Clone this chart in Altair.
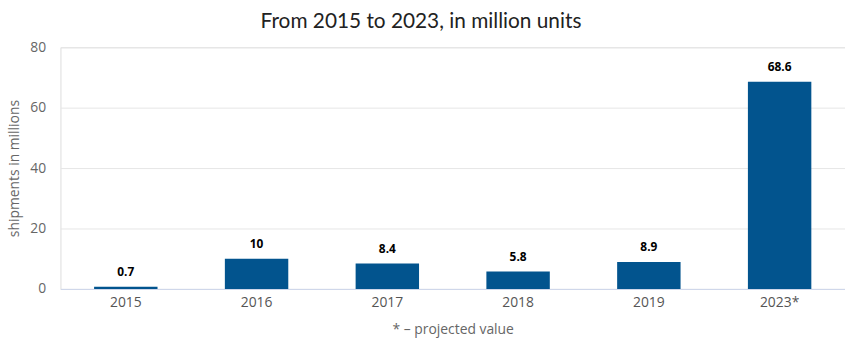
import altair as alt
import pandas as pd

years = ["2015", "2016", "2017", "2018", "2019", "2023*"]
shipments = [0.7, 10, 8.4, 5.8, 8.9, 68.6]
y_ticks = [0, 20, 40, 60, 80]

df = pd.DataFrame({"year": years, "value": shipments})

x_enc = alt.X(
    "year:N",
    sort=years,
    scale=alt.Scale(paddingInner=0.515, paddingOuter=0.2575),
    axis=alt.Axis(
        title="* – projected value",
        titleFont="Open Sans",
        titleFontSize=14,
        titleFontWeight="normal",
        titleColor="#666666",
        titlePadding=13,
        labelFont="Open Sans",
        labelFontSize=14,
        labelColor="#555555",
        labelPadding=7,
        labelAngle=0,
        tickSize=0,
        domain=True,
        domainColor="#ccd6eb",
        domainWidth=1,
        grid=False,
    ),
)

y_enc = alt.Y(
    "value:Q",
    scale=alt.Scale(domain=[0, 80], nice=False),
    axis=alt.Axis(
        values=y_ticks,
        title="shipments in millions",
        titleFont="Open Sans",
        titleFontSize=14,
        titleFontWeight="normal",
        titleColor="#666666",
        titlePadding=8,
        labelFont="Open Sans",
        labelFontSize=14,
        labelColor="#666666",
        labelPadding=15,
        tickSize=0,
        domain=False,
        grid=True,
        gridColor="#e6e6e6",
        gridWidth=1,
    ),
)

base = alt.Chart(df).encode(x=x_enc, y=y_enc)

bars = base.mark_bar(color="#02548e")

labels = base.mark_text(
    dy=-8,
    font="Open Sans",
    fontSize=12,
    fontWeight="bold",
    color="#000000",
    baseline="bottom",
).encode(text=alt.Text("value:Q", format="~g"))

chart = (
    alt.layer(bars, labels)
    .properties(
        width=792,
        height=244,
        autosize=alt.AutoSizeParams(type="none"),
        padding={"left": 61, "top": 46, "right": 0, "bottom": 63},
        title=alt.TitleParams(
            "From 2015 to 2023, in million units",
            font="Lato",
            fontSize=21,
            fontWeight="normal",
            color="#222222",
            anchor="middle",
            dx=-32,
            offset=8,
        ),
    )
    .configure_view(stroke=None)
    .configure(background="white")
)

chart.save("out.html", embed_options={"renderer": "svg", "actions": False})
